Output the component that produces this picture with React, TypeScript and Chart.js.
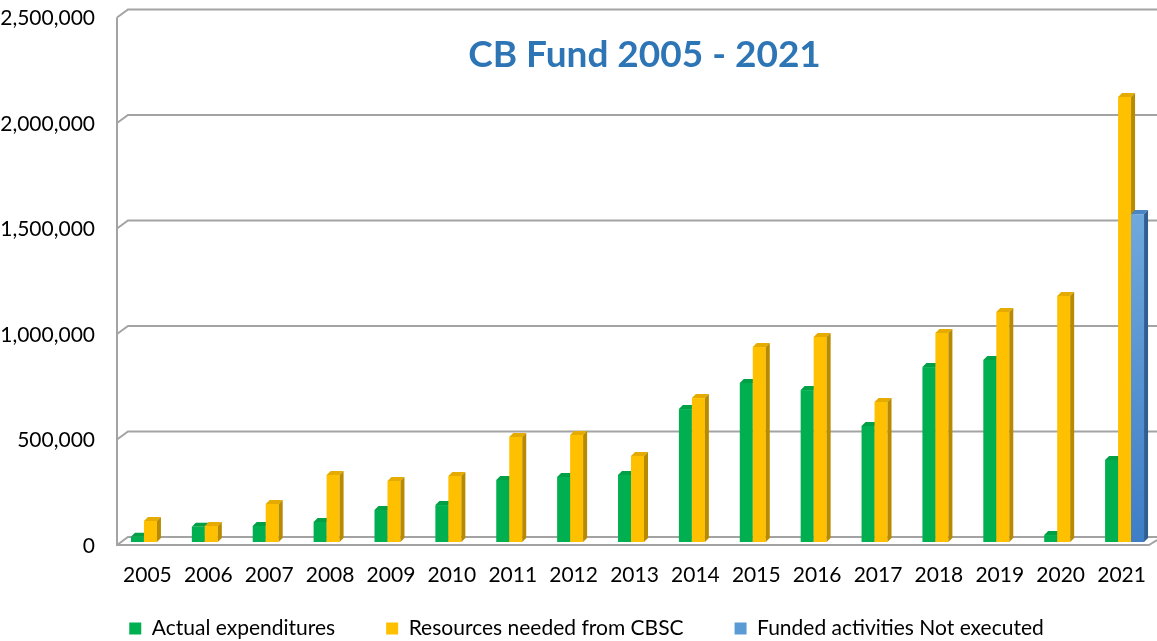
import React, { useEffect, useRef } from 'react';
import { Chart, registerables } from 'chart.js';

Chart.register(...registerables);

const years = ['2005', '2006', '2007', '2008', '2009', '2010', '2011', '2012', '2013', '2014', '2015', '2016', '2017', '2018', '2019', '2020', '2021'];
const actualExpenditures = [25000, 72000, 76000, 95000, 152000, 175000, 294000, 308000, 318000, 630000, 754000, 720000, 550000, 829000, 863000, 33000, 389000];
const resourcesNeeded = [100000, 76000, 180000, 318000, 289000, 313000, 498000, 507000, 408000, 682000, 924000, 972000, 664000, 991000, 1090000, 1166000, 2109000];
const fundedNotExecuted = [null, null, null, null, null, null, null, null, null, null, null, null, null, null, null, null, 1554000];
const seriesNames = ['Actual expenditures', 'Resources needed from CBSC', 'Funded activities Not executed'];
const yMin = 0;
const yMax = 2500000;
const yStep = 500000;
const titleText = 'CB Fund 2005 - 2021';

const FONT = 'Lato';
const FS = 21;
const faceStyles = [
  { front: '#00B050', top: '#00A046', side: '#00873B' },
  { front: '#FFC000', top: '#E5AB00', side: '#B88A00' },
  { front: '#5B9BD5', top: '#4A86C4', side: '#2F5F92' },
];
const GRID = '#A3A3A3';
const DX = 4, DY = 4; // bar depth
const WALL_BACK_X = 8, WALL_BACK_Y = 5, WALL_FRONT_X = 3, WALL_FRONT_Y = 3;

const threeD = {
  id: 'threeD',
  beforeDatasetsDraw(chart: any) {
    const { ctx, chartArea, scales } = chart;
    const ys = scales.y;
    const L = chartArea.left;
    const W = chart.width;
    ctx.save();
    ctx.strokeStyle = GRID;
    ctx.lineWidth = 2;
    const ticks = ys.ticks.map((t: any) => t.value);
    ticks.forEach((v: number) => {
      const y = ys.getPixelForValue(v);
      ctx.beginPath();
      ctx.moveTo(L - WALL_FRONT_X, y + WALL_FRONT_Y);
      ctx.lineTo(L + WALL_BACK_X, y - WALL_BACK_Y);
      ctx.lineTo(W, y - WALL_BACK_Y);
      ctx.stroke();
    });
    const yTop = ys.getPixelForValue(yMax);
    const y0 = ys.getPixelForValue(0);
    ctx.beginPath();
    ctx.moveTo(L - WALL_FRONT_X, yTop + WALL_FRONT_Y);
    ctx.lineTo(L - WALL_FRONT_X, y0 + WALL_FRONT_Y);
    ctx.lineTo(W - 8, y0 + WALL_FRONT_Y);
    ctx.lineTo(W, y0 - 2);
    ctx.stroke();
    ctx.restore();

    const metas = [0, 1, 2].map((i) => chart.getDatasetMeta(i));
    for (let j = 0; j < years.length; j++) {
      metas.forEach((meta: any, di: number) => {
        const val = chart.data.datasets[di].data[j];
        if (val == null) return;
        const el = meta.data[j];
        if (!el) return;
        const { x, y, base, width } = el.getProps(['x', 'y', 'base', 'width'], true);
        const l = x - width / 2;
        const r = x + width / 2;
        const st = faceStyles[di];
        ctx.save();
        if (di === 2) {
          const g = ctx.createLinearGradient(0, y, 0, base);
          g.addColorStop(0, '#6FA8DC');
          g.addColorStop(1, '#3E7EC6');
          ctx.fillStyle = g;
        } else {
          ctx.fillStyle = st.front;
        }
        ctx.fillRect(l, y, r - l, base - y);
        ctx.fillStyle = st.top;
        ctx.beginPath();
        ctx.moveTo(l, y);
        ctx.lineTo(l + DX, y - DY);
        ctx.lineTo(r + DX, y - DY);
        ctx.lineTo(r, y);
        ctx.closePath();
        ctx.fill();
        ctx.fillStyle = st.side;
        ctx.beginPath();
        ctx.moveTo(r, y);
        ctx.lineTo(r + DX, y - DY);
        ctx.lineTo(r + DX, base - DY);
        ctx.lineTo(r, base);
        ctx.closePath();
        ctx.fill();
        ctx.restore();
      });
    }
    return false;
  },
  afterDraw(chart: any) {
    const { ctx } = chart;
    ctx.save();
    ctx.font = `bold 37px ${FONT}`;
    ctx.fillStyle = '#2E75B6';
    ctx.textAlign = 'center';
    ctx.textBaseline = 'alphabetic';
    ctx.fillText(titleText, 644.5, 67);
    ctx.restore();
  },
};

export default function App() {
  const ref = useRef<HTMLCanvasElement>(null);
  useEffect(() => {
    if (!ref.current) return;
    const chart = new Chart(ref.current, {
      type: 'bar',
      data: {
        labels: years,
        datasets: [
          { label: seriesNames[0], data: actualExpenditures, backgroundColor: faceStyles[0].front, borderWidth: 0 },
          { label: seriesNames[1], data: resourcesNeeded, backgroundColor: faceStyles[1].front, borderWidth: 0 },
          { label: seriesNames[2], data: fundedNotExecuted as any, backgroundColor: faceStyles[2].front, borderWidth: 0 },
        ],
      },
      options: {
        responsive: false,
        animation: false,
        layout: { padding: { top: 14.5, right: 2, bottom: 0, left: 18 } },
        datasets: { bar: { categoryPercentage: 0.64, barPercentage: 1 } },
        plugins: {
          legend: {
            position: 'bottom',
            maxHeight: 74,
            labels: {
              boxWidth: 12,
              boxHeight: 12,
              padding: 51,
              color: '#000',
              font: { family: FONT, size: FS },
            },
          },
          tooltip: { enabled: false },
          title: { display: false },
        },
        scales: {
          x: {
            grid: { display: false, drawTicks: false },
            border: { display: false },
            ticks: { color: '#000', font: { family: FONT, size: FS }, padding: 21, labelOffset: -3, maxRotation: 0, autoSkip: false },
            afterFit: (s: any) => {
              s.height = 25;
              s.paddingLeft = 0;
              s.paddingRight = 0;
              s._computeLabelArea = () => undefined;
            },
          },
          y: {
            min: yMin,
            max: yMax,
            grid: { display: false, drawTicks: false },
            border: { display: false },
            ticks: {
              stepSize: yStep,
              color: '#000',
              font: { family: FONT, size: FS },
              padding: 25,
              labelOffset: 4,
              callback: (v: any) => Number(v).toLocaleString('en-US'),
            },
            afterFit: (s: any) => {
              s.width = 102;
              s.paddingTop = 0;
              s.paddingBottom = 0;
              s._computeLabelArea = () => undefined;
            },
          },
        },
      },
      plugins: [threeD],
    });
    return () => chart.destroy();
  }, []);
  return (
    <div style={{ position: 'absolute', left: 0, top: 0, width: 1157, height: 641, background: '#fff' }}>
      <canvas ref={ref} width={1157} height={641} style={{ display: 'block' }} />
    </div>
  );
}
